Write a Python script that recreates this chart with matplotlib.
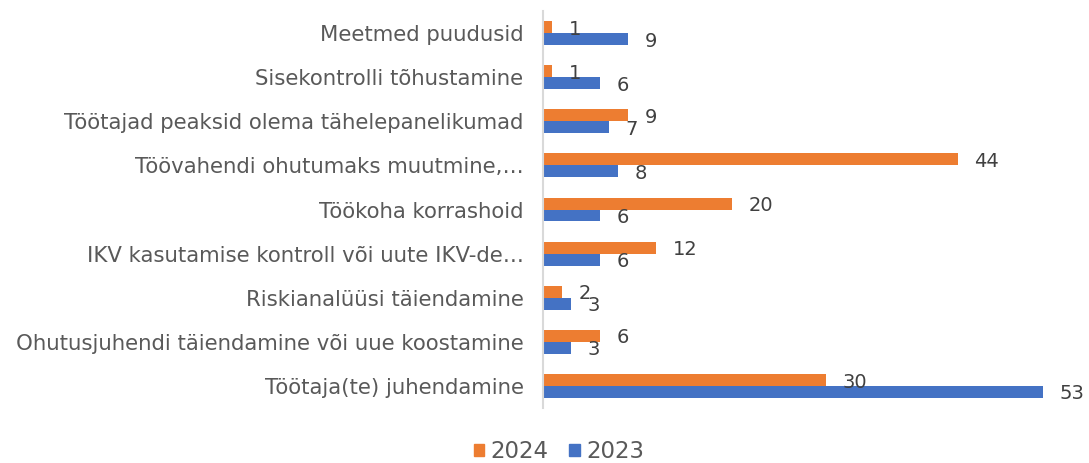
import numpy as np
import matplotlib.pyplot as plt
from matplotlib.patches import Patch

# categories listed bottom to top
categories = [
    "Töötaja(te) juhendamine",
    "Ohutusjuhendi täiendamine või uue koostamine",
    "Riskianalüüsi täiendamine",
    "IKV kasutamise kontroll või uute IKV-de…",
    "Töökoha korrashoid",
    "Töövahendi ohutumaks muutmine,…",
    "Töötajad peaksid olema tähelepanelikumad",
    "Sisekontrolli tõhustamine",
    "Meetmed puudusid",
]
values_2024 = [30, 6, 2, 12, 20, 44, 9, 1, 1]
values_2023 = [53, 3, 3, 6, 6, 8, 7, 6, 9]

ORANGE = "#ed7d31"
BLUE = "#4472c4"
LABEL_GRAY = "#595959"
VALUE_GRAY = "#404040"

plt.rcParams["font.family"] = ["DejaVu Sans"]

fig = plt.figure(figsize=(10.89, 4.63), dpi=100)
ax = fig.add_axes([543 / 1089, 55 / 463, 528 / 1089, 397 / 463])

y = np.arange(len(categories))
h = 0.27
bars24 = ax.barh(y + h / 2, values_2024, height=h, color=ORANGE, label="2024")
bars23 = ax.barh(y - h / 2, values_2023, height=h, color=BLUE, label="2023")

for bars in (bars24, bars23):
    for b in bars:
        w = b.get_width()
        ax.annotate(str(int(w)), (w, b.get_y() + b.get_height() / 2),
                    xytext=(12, -1.5), textcoords="offset points",
                    ha="left", va="center", fontsize=14, color=VALUE_GRAY)

ax.set_xlim(0, 56)
ax.set_ylim(-0.5, len(categories) - 0.5)
ax.set_yticks(y)
ax.set_yticklabels(categories, fontsize=15.3, color=LABEL_GRAY)
ax.tick_params(axis="y", length=0, pad=14)
ax.set_xticks([])
for s in ["top", "right", "bottom"]:
    ax.spines[s].set_visible(False)
ax.spines["left"].set_color("#d9d9d9")
ax.spines["left"].set_linewidth(1.5)

handles = [Patch(color=ORANGE, label="2024"), Patch(color=BLUE, label="2023")]
fig.legend(handles=handles, loc="center", bbox_to_anchor=(559 / 1089, 1 - 452 / 463),
           ncol=2, frameon=False, fontsize=16.5, handlelength=0.45, handleheight=0.45,
           handletextpad=0.3, columnspacing=0.9, labelcolor=LABEL_GRAY)

fig.savefig("out.png", dpi=100)
